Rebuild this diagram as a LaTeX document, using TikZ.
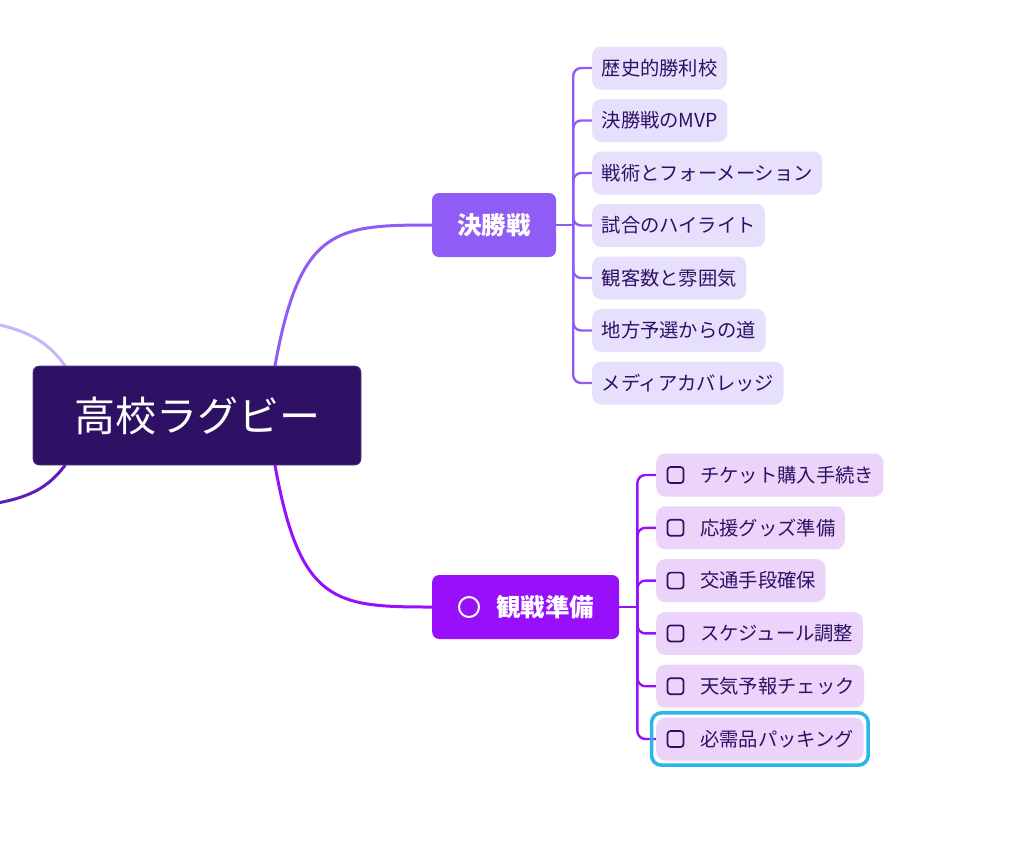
\documentclass[tikz,border=0pt]{standalone}
\usepackage{fontspec}
\setmainfont{Noto Sans CJK JP}
\usetikzlibrary{positioning, calc, fit, backgrounds}
\definecolor{rootbg}{HTML}{2E1065}
\definecolor{finalbg}{HTML}{8F5CF6}
\definecolor{prepbg}{HTML}{9810FA}
\definecolor{leafA}{HTML}{E7E0FD}
\definecolor{leafB}{HTML}{EBD3F9}
\definecolor{ink}{HTML}{2E1065}
\definecolor{armA}{HTML}{C4B5FD}
\definecolor{armB}{HTML}{5B21B6}
\definecolor{sky}{HTML}{2BB5EA}
\tikzset{
  rootbox/.style={fill=rootbg, draw=rootbg!80!white, line width=0.6pt, rounded corners=6pt, text=white,
    minimum width=328pt, minimum height=99pt, font=\fontsize{41}{48}\selectfont},
  catbox/.style={rounded corners=7pt, text=white, minimum height=64pt, inner xsep=25pt,
    font=\bfseries\fontsize{24.5}{29}\selectfont},
  leafbox/.style={rounded corners=9pt, text=ink, minimum height=43pt, inner xsep=9.5pt,
    anchor=west, font=\fontsize{19.3}{23}\selectfont},
  ckbox/.style={draw=ink, line width=1.7pt, rounded corners=3pt, minimum size=16pt, inner sep=0pt},
  link/.style={line width=2.4pt, line cap=round},
  arm/.style={line width=3pt, line cap=round},
  hlring/.style={draw=sky, line width=3.5pt, rounded corners=10pt, inner sep=4.5pt}
}
\begin{document}
\begin{tikzpicture}[x=1pt, y=-1pt]
\clip (0,0) rectangle (1024,855);
\node[rootbox] (root) at (197,415.5) {高校ラグビー};
\node[catbox, fill=finalbg, minimum width=124pt] (final) at (494,225) {決勝戦};
\node[catbox, fill=prepbg, anchor=west, minimum width=187pt] (prep) at (432,607) {\hspace*{39pt}観戦準備};
\node[draw=white, line width=2pt, circle, minimum size=20pt, inner sep=0pt] (prepmark) at ([xshift=37pt]prep.west) {};
\foreach \t [count=\i] in {歴史的勝利校, 決勝戦のMVP, 戦術とフォーメーション, 試合のハイライト,
    観客数と雰囲気, 地方予選からの道, メディアカバレッジ}
  \node[leafbox, fill=leafA] (fa\i) at (592,{68+52.5*(\i-1)}) {\t};
\foreach \t [count=\i] in {チケット購入手続き, 応援グッズ準備, 交通手段確保, スケジュール調整,
    天気予報チェック, 必需品パッキング}
  \node[leafbox, fill=leafB] (fb\i) at (656,{475+52.8*(\i-1)}) {\hspace*{34.5pt}\t};
\foreach \i in {1,...,6}
  \node[ckbox] (cb\i) at ([xshift=19.5pt]fb\i.west) {};
\node[hlring, fit=(fb6)] (pick) {};
\coordinate (busA) at ([xshift=17pt]final.east);
\coordinate (busB) at ([xshift=18pt]prep.east);
\coordinate (offA) at (-40,318);
\coordinate (offB) at (-40,508);
\begin{pgfonlayer}{background}
\draw[arm, armA] ([xshift=-132pt]root.north) .. controls (45,338) and (22,326) .. (offA);
\draw[arm, armB] ([xshift=-132pt]root.south) .. controls (45,492) and (22,502) .. (offB);
\draw[arm, finalbg] ([xshift=78pt]root.north) .. controls (300,228) and (335,225) .. (final.west);
\draw[arm, prepbg] ([xshift=78pt]root.south) .. controls (300,604) and (335,607) .. (prep.west);
\draw[link, finalbg] (final.east) -- (busA);
\foreach \i in {1,...,7}
  \draw[link, finalbg, rounded corners=8pt] (busA) |- (fa\i.west);
\draw[link, prepbg] (prep.east) -- (busB);
\foreach \i in {1,...,6}
  \draw[link, prepbg, rounded corners=8pt] (busB) |- (fb\i.west);
\end{pgfonlayer}
\end{tikzpicture}
\end{document}
